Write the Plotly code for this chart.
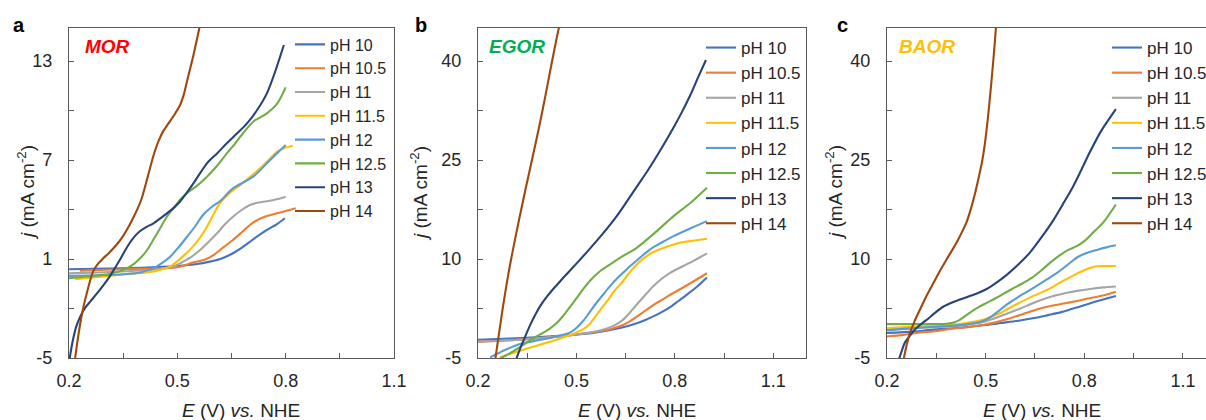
import plotly.graph_objects as go

# ---------------- data: E (V vs. NHE) and j (mA cm-2) ----------------
series_names = ["pH 10", "pH 10.5", "pH 11", "pH 11.5", "pH 12", "pH 12.5", "pH 13", "pH 14"]
series_colors = ["#4472C4", "#ED7D31", "#A5A5A5", "#FFC000", "#5B9BD5", "#70AD47", "#264478", "#9E480E"]

# MOR
mor_e_ph10 = [0.2, 0.3, 0.4, 0.45, 0.5, 0.55, 0.59, 0.625, 0.654, 0.68, 0.71, 0.748, 0.775, 0.798]
mor_j_ph10 = [0.38, 0.42, 0.47, 0.52, 0.58, 0.68, 0.84, 1.05, 1.35, 1.7, 2.19, 2.76, 3.1, 3.47]
mor_e_ph105 = [0.23, 0.3, 0.4, 0.5, 0.543, 0.575, 0.6, 0.627, 0.654, 0.68, 0.701, 0.725, 0.748, 0.79, 0.828]
mor_j_ph105 = [0.29, 0.35, 0.4, 0.5, 0.78, 0.95, 1.24, 1.7, 2.15, 2.65, 3.06, 3.4, 3.6, 3.85, 4.07]
mor_e_ph11 = [0.2, 0.3, 0.4, 0.45, 0.49, 0.516, 0.54, 0.563, 0.587, 0.61, 0.632, 0.654, 0.68, 0.701, 0.725, 0.748, 0.775, 0.8]
mor_j_ph11 = [0.13, 0.2, 0.3, 0.39, 0.55, 0.84, 1.15, 1.55, 2.05, 2.56, 3.1, 3.56, 4.0, 4.27, 4.42, 4.5, 4.62, 4.78]
mor_e_ph115 = [0.217, 0.3, 0.36, 0.42, 0.452, 0.48, 0.499, 0.52, 0.543, 0.563, 0.582, 0.6, 0.618, 0.645, 0.674, 0.7, 0.729, 0.755, 0.776, 0.8, 0.82]
mor_j_ph115 = [-0.23, -0.05, 0.09, 0.2, 0.33, 0.55, 0.84, 1.25, 1.75, 2.3, 2.96, 3.7, 4.38, 5.0, 5.48, 5.95, 6.5, 7.05, 7.5, 7.75, 7.87]
mor_e_ph12 = [0.2, 0.3, 0.36, 0.4, 0.433, 0.457, 0.48, 0.503, 0.527, 0.55, 0.571, 0.595, 0.618, 0.654, 0.71, 0.757, 0.8]
mor_j_ph12 = [-0.03, 0.03, 0.09, 0.2, 0.43, 0.75, 1.14, 1.7, 2.35, 3.0, 3.67, 4.15, 4.5, 5.28, 5.99, 7.0, 7.91]
mor_e_ph125 = [0.2, 0.26, 0.313, 0.34, 0.36, 0.38, 0.397, 0.415, 0.433, 0.452, 0.471, 0.49, 0.507, 0.526, 0.555, 0.582,
               0.61, 0.637, 0.66, 0.682, 0.71, 0.748, 0.776, 0.8]
mor_j_ph125 = [-0.17, -0.05, 0.09, 0.25, 0.43, 0.7, 1.04, 1.5, 2.15, 2.85, 3.56, 4.1, 4.58, 4.98, 5.45, 5.99,
               6.65, 7.4, 8.0, 8.62, 9.32, 9.83, 10.4, 11.4]
mor_e_ph13 = [0.202, 0.21, 0.22, 0.232, 0.245, 0.26, 0.277, 0.295, 0.313, 0.327, 0.341, 0.355, 0.369, 0.383, 0.397,
              0.415, 0.433, 0.452, 0.471, 0.49, 0.507, 0.545, 0.582, 0.61, 0.637, 0.665, 0.693, 0.72, 0.748, 0.77, 0.795]
mor_j_ph13 = [-5.0, -4.0, -3.1, -2.45, -1.95, -1.55, -1.1, -0.6, -0.05, 0.45, 0.95, 1.5, 2.0, 2.4, 2.7,
              2.95, 3.15, 3.45, 3.77, 4.1, 4.47, 5.6, 6.8, 7.4, 8.01, 8.6, 9.22, 10.0, 11.04, 12.3, 13.97]
mor_e_ph14 = [0.217, 0.224, 0.232, 0.24, 0.249, 0.258, 0.267, 0.28, 0.295, 0.31, 0.323, 0.337, 0.35, 0.365, 0.378,
              0.39, 0.401, 0.417, 0.433, 0.447, 0.461, 0.475, 0.489, 0.507, 0.517, 0.526, 0.545, 0.561, 0.575]
mor_j_ph14 = [-5.0, -3.9, -2.8, -1.9, -1.1, -0.35, 0.25, 0.7, 1.05, 1.35, 1.65, 2.0, 2.4, 2.95, 3.5,
              4.05, 4.65, 5.9, 7.2, 8.1, 8.75, 9.2, 9.65, 10.3, 10.9, 11.7, 13.4, 15.0, 16.5]

# EGOR
egor_e_ph10 = [0.2, 0.3, 0.4, 0.481, 0.55, 0.6, 0.633, 0.66, 0.684, 0.71, 0.734, 0.76, 0.786, 0.81, 0.837, 0.87, 0.898]
egor_j_ph10 = [-2.24, -2.05, -1.8, -1.53, -1.2, -0.8, -0.45, -0.12, 0.25, 0.75, 1.3, 1.95, 2.7, 3.6, 4.6, 5.9, 7.19]
egor_e_ph105 = [0.2, 0.3, 0.4, 0.481, 0.55, 0.59, 0.613, 0.64, 0.664, 0.69, 0.715, 0.74, 0.765, 0.79, 0.816, 0.85, 0.898]
egor_j_ph105 = [-2.55, -2.3, -1.95, -1.53, -1.1, -0.8, -0.5, -0.05, 0.6, 1.45, 2.35, 3.2, 3.91, 4.7, 5.42, 6.4, 7.84]
egor_e_ph11 = [0.2, 0.3, 0.4, 0.481, 0.55, 0.58, 0.6, 0.62, 0.64, 0.66, 0.684, 0.71, 0.735, 0.76, 0.786, 0.826, 0.86, 0.898]
egor_j_ph11 = [-2.54, -2.3, -1.95, -1.53, -1.05, -0.72, -0.4, 0.05, 0.7, 1.7, 3.1, 4.55, 5.9, 7.0, 7.9, 8.94, 9.8, 10.86]
egor_e_ph115 = [0.267, 0.3, 0.328, 0.379, 0.429, 0.481, 0.521, 0.538, 0.552, 0.567, 0.582, 0.598, 0.613, 0.638, 0.66,
                0.679, 0.7, 0.725, 0.755, 0.785, 0.816, 0.86, 0.898]
egor_j_ph115 = [-4.9, -4.35, -3.9, -3.14, -2.39, -1.53, -0.62, 0.0, 0.89, 1.9, 2.9, 3.9, 5.0, 6.4, 7.8,
                8.9, 9.9, 10.8, 11.47, 12.0, 12.48, 12.8, 13.08]
egor_e_ph12 = [0.237, 0.257, 0.277, 0.3, 0.328, 0.38, 0.429, 0.481, 0.5, 0.521, 0.54, 0.562, 0.583, 0.603, 0.623,
               0.643, 0.664, 0.694, 0.725, 0.76, 0.796, 0.85, 0.898]
egor_j_ph12 = [-4.9, -4.4, -3.9, -3.4, -2.88, -2.35, -1.87, -1.12, -0.45, 0.64, 1.9, 3.41, 4.7, 5.92, 7.0,
               7.94, 8.94, 10.2, 11.47, 12.5, 13.47, 14.7, 15.74]
egor_e_ph125 = [0.266, 0.29, 0.32, 0.347, 0.372, 0.398, 0.42, 0.44, 0.46, 0.48, 0.501, 0.52, 0.545, 0.571, 0.603,
                0.64, 0.684, 0.74, 0.796, 0.85, 0.898]
egor_j_ph125 = [-5.1, -4.5, -3.6, -2.7, -1.9, -1.2, -0.5, 0.3, 1.4, 2.7, 4.1, 5.4, 6.9, 8.1, 9.2,
                10.4, 11.7, 14.0, 16.5, 18.6, 20.8]
egor_e_ph13 = [0.317, 0.33, 0.345, 0.36, 0.375, 0.39, 0.41, 0.43, 0.45, 0.47, 0.5, 0.54, 0.58, 0.623,
               0.655, 0.689, 0.72, 0.755, 0.795, 0.82, 0.846, 0.87, 0.895]
egor_j_ph13 = [-5.1, -3.4, -1.6, 0.1, 1.6, 2.9, 4.3, 5.5, 6.6, 7.7, 9.3, 11.5, 13.8, 16.5,
               18.8, 21.3, 23.6, 26.4, 29.8, 32.1, 34.7, 37.4, 40.15]
egor_e_ph14 = [0.253, 0.262, 0.275, 0.29, 0.305, 0.325, 0.345, 0.365, 0.385, 0.405, 0.424, 0.44, 0.455]
egor_j_ph14 = [-5.1, -2.0, 2.4, 7.0, 11.0, 15.9, 20.6, 25.1, 29.7, 34.6, 39.5, 43.5, 47.0]

# BAOR
baor_e_ph10 = [0.2, 0.28, 0.341, 0.4, 0.444, 0.5, 0.546, 0.6, 0.648, 0.69, 0.73, 0.777, 0.83, 0.896]
baor_j_ph10 = [-1.2, -1.0, -0.7, -0.5, -0.3, 0.0, 0.3, 0.65, 1.05, 1.5, 1.95, 2.65, 3.5, 4.41]
baor_e_ph105 = [0.2, 0.25, 0.29, 0.35, 0.393, 0.45, 0.495, 0.53, 0.567, 0.61, 0.648, 0.69, 0.726, 0.77, 0.826, 0.86, 0.896]
baor_j_ph105 = [-1.75, -1.5, -1.2, -0.9, -0.6, -0.3, 0.05, 0.4, 0.9, 1.6, 2.25, 2.8, 3.15, 3.55, 4.16, 4.5, 5.02]
baor_e_ph11 = [0.2, 0.3, 0.4, 0.444, 0.48, 0.505, 0.55, 0.6, 0.625, 0.66, 0.706, 0.74, 0.777, 0.823, 0.86, 0.896]
baor_j_ph11 = [-0.7, -0.4, -0.2, 0.05, 0.3, 0.65, 1.45, 2.4, 2.9, 3.65, 4.41, 4.8, 5.17, 5.5, 5.7, 5.83]
baor_e_ph115 = [0.2, 0.3, 0.4, 0.44, 0.485, 0.52, 0.546, 0.564, 0.6, 0.645, 0.69, 0.726, 0.77, 0.807, 0.833, 0.857, 0.896]
baor_j_ph115 = [-0.45, -0.2, 0.05, 0.3, 0.7, 1.3, 1.85, 2.35, 3.3, 4.41, 5.4, 6.43, 7.6, 8.44, 8.85, 8.94, 8.94]
baor_e_ph12 = [0.2, 0.3, 0.4, 0.44, 0.48, 0.505, 0.534, 0.567, 0.614, 0.648, 0.686, 0.72, 0.756, 0.78, 0.807, 0.84, 0.87, 0.896]
baor_j_ph12 = [-0.8, -0.4, -0.1, 0.1, 0.4, 0.9, 1.9, 3.2, 4.7, 5.7, 6.9, 8.0, 9.4, 10.3, 10.9, 11.4, 11.8, 12.07]
baor_e_ph125 = [0.2, 0.3, 0.38, 0.4, 0.42, 0.44, 0.46, 0.48, 0.505, 0.53, 0.555, 0.58, 0.61, 0.64, 0.67, 0.7, 0.726,
                0.75, 0.777, 0.8, 0.827, 0.857, 0.896]
baor_j_ph125 = [0.14, 0.14, 0.2, 0.35, 0.75, 1.45, 2.15, 2.75, 3.4, 4.05, 4.75, 5.45, 6.25, 7.15, 8.3, 9.6, 10.6,
                11.35, 11.95, 12.7, 14.0, 15.5, 18.26]
baor_e_ph13 = [0.237, 0.245, 0.254, 0.267, 0.28, 0.3, 0.321, 0.345, 0.372, 0.4, 0.422, 0.444, 0.475, 0.503, 0.535,
               0.564, 0.6, 0.635, 0.67, 0.706, 0.736, 0.766, 0.79, 0.817, 0.85, 0.896]
baor_j_ph13 = [-5.1, -3.9, -2.7, -1.8, -0.95, 0.0, 0.8, 1.8, 2.8, 3.45, 3.85, 4.25, 4.8, 5.45, 6.5,
               7.6, 9.2, 11.0, 13.3, 15.9, 18.4, 21.0, 23.4, 26.2, 29.3, 32.7]
baor_e_ph14 = [0.251, 0.26, 0.27, 0.285, 0.3, 0.32, 0.341, 0.362, 0.382, 0.4, 0.417, 0.43, 0.442, 0.455, 0.468, 0.48,
               0.49, 0.498, 0.506, 0.515, 0.524, 0.532, 0.54]
baor_j_ph14 = [-5.1, -3.0, -1.2, 0.7, 2.3, 4.4, 6.35, 8.3, 10.0, 11.5, 13.0, 14.3, 15.6, 17.6, 20.0, 22.6,
               25.0, 27.6, 31.0, 35.5, 40.5, 45.5, 51.0]

mor_curves = [(mor_e_ph10, mor_j_ph10), (mor_e_ph105, mor_j_ph105), (mor_e_ph11, mor_j_ph11), (mor_e_ph115, mor_j_ph115),
              (mor_e_ph12, mor_j_ph12), (mor_e_ph125, mor_j_ph125), (mor_e_ph13, mor_j_ph13), (mor_e_ph14, mor_j_ph14)]
egor_curves = [(egor_e_ph10, egor_j_ph10), (egor_e_ph105, egor_j_ph105), (egor_e_ph11, egor_j_ph11), (egor_e_ph115, egor_j_ph115),
               (egor_e_ph12, egor_j_ph12), (egor_e_ph125, egor_j_ph125), (egor_e_ph13, egor_j_ph13), (egor_e_ph14, egor_j_ph14)]
baor_curves = [(baor_e_ph10, baor_j_ph10), (baor_e_ph105, baor_j_ph105), (baor_e_ph11, baor_j_ph11), (baor_e_ph115, baor_j_ph115),
               (baor_e_ph12, baor_j_ph12), (baor_e_ph125, baor_j_ph125), (baor_e_ph13, baor_j_ph13), (baor_e_ph14, baor_j_ph14)]

x_tickvals = [0.2, 0.35, 0.5, 0.65, 0.8, 0.95, 1.1]
x_ticktext = ["0.2", "", "0.5", "", "0.8", "", "1.1"]
mor_tickvals = [-5, -2, 1, 4, 7, 10, 13]
mor_ticktext = ["-5", "", "1", "", "7", "", "13"]
big_tickvals = [-5, 2.5, 10, 17.5, 25, 32.5, 40]
big_ticktext = ["-5", "", "10", "", "25", "", "40"]

panel_letters = ["a", "b", "c"]
panel_tags = ["MOR", "EGOR", "BAOR"]
panel_tag_colors = ["#FF0000", "#00B050", "#FFC000"]

# ---------------- figure ----------------
W, H = 1206, 420
FONT = "Arial, 'Liberation Sans', Helvetica, sans-serif"
AX = "#595959"
TXT = "#262626"

fig = go.Figure()

panels = [
    dict(curves=mor_curves, xa="x", ya="y", legend="legend"),
    dict(curves=egor_curves, xa="x2", ya="y2", legend="legend2"),
    dict(curves=baor_curves, xa="x3", ya="y3", legend="legend3"),
]
for p in panels:
    for (ev, jv), name, col in zip(p["curves"], series_names, series_colors):
        fig.add_trace(go.Scatter(
            x=ev, y=jv, name=name, mode="lines",
            line=dict(color=col, width=2.1, shape="spline", smoothing=0.8),
            xaxis=p["xa"], yaxis=p["ya"], legend=p["legend"], hoverinfo="skip",
        ))

def px_x(v):
    return v / W

def px_y(v):
    return 1 - v / H

y_dom = [px_y(358), px_y(28)]
x_doms = [[px_x(69), px_x(394)], [px_x(478), px_x(806)], [px_x(887), 1.0]]
x_ranges = [[0.2, 1.1], [0.2, 1.2], [0.2, 1.17]]

common_axis = dict(
    showline=True, linecolor=AX, linewidth=1.3, ticks="inside", ticklen=5, tickwidth=1.2,
    tickcolor=AX, showgrid=False, zeroline=False, tickfont=dict(family=FONT, size=18, color=TXT),
    fixedrange=True,
)

layout = dict(
    width=W, height=H, margin=dict(l=0, r=0, t=0, b=0, autoexpand=False),
    paper_bgcolor="white", plot_bgcolor="white", font=dict(family=FONT, color=TXT),
)
for i in range(3):
    sfx = "" if i == 0 else str(i + 1)
    layout["xaxis" + sfx] = dict(
        common_axis, domain=x_doms[i], range=x_ranges[i], tickmode="array",
        tickvals=x_tickvals, ticktext=x_ticktext, mirror=True, anchor="y" + sfx,
        ticklabelstandoff=6,
    )
    layout["yaxis" + sfx] = dict(
        common_axis, domain=y_dom, range=[-5, 15] if i == 0 else [-5, 45], tickmode="array",
        tickvals=mor_tickvals if i == 0 else big_tickvals,
        ticktext=mor_ticktext if i == 0 else big_ticktext,
        mirror=(i < 2), anchor="x" + sfx, ticklabelstandoff=12,
    )

legend_lefts = [290, 701, 1107]
legend_tops = [27.5, 30, 30]
legend_sizes = [16, 17, 17]
for i in range(3):
    key = "legend" if i == 0 else "legend" + str(i + 1)
    layout[key] = dict(
        x=px_x(legend_lefts[i]), y=px_y(legend_tops[i]), xanchor="left", yanchor="top",
        bgcolor="rgba(0,0,0,0)", borderwidth=0,
        font=dict(family=FONT, size=legend_sizes[i], color=TXT),
        itemwidth=30, tracegroupgap=0,
    )

fig.update_layout(**layout)

annotations = []
letter_x = [19, 421, 842]
tag_x = [83, 487, 897]
xtitle_x = [241, 637, 1042]
ytitle_x = [26, 419, 834]
for i in range(3):
    annotations.append(dict(
        x=px_x(letter_x[i]), y=px_y(25), xref="paper", yref="paper", showarrow=False,
        text="<b>%s</b>" % panel_letters[i], font=dict(family=FONT, size=20, color="#000000"),
        xanchor="center", yanchor="middle",
    ))
    annotations.append(dict(
        x=px_x(tag_x[i]), y=px_y(46), xref="paper", yref="paper", showarrow=False,
        text="<b><i>%s</i></b>" % panel_tags[i], font=dict(family=FONT, size=19, color=panel_tag_colors[i]),
        xanchor="left", yanchor="middle",
    ))
    annotations.append(dict(
        x=px_x(xtitle_x[i]), y=px_y(410), xref="paper", yref="paper", showarrow=False,
        text="<i>E</i> (V) <i>vs.</i> NHE", font=dict(family=FONT, size=19, color=TXT),
        xanchor="center", yanchor="middle",
    ))
    annotations.append(dict(
        x=px_x(ytitle_x[i]), y=px_y(193), xref="paper", yref="paper", showarrow=False,
        text="<i>j</i> (mA cm<sup>-2</sup>)", textangle=-90, font=dict(family=FONT, size=19, color=TXT),
        xanchor="center", yanchor="middle",
    ))
fig.update_layout(annotations=annotations)

fig.write_html("out.html", config={"displayModeBar": False})
